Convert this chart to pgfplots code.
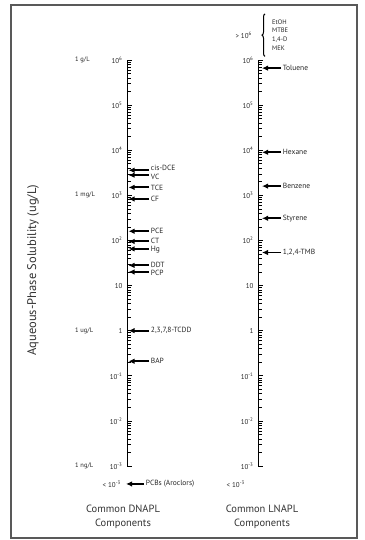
\documentclass[border=0pt]{standalone}
\usepackage{pgfplots}
\pgfplotsset{compat=1.18}
\usepackage{fontspec}
\setmainfont{PT Sans}
\usetikzlibrary{arrows.meta,decorations.pathreplacing}

\tikzset{
  arr/.style={-{Latex[length=6pt,width=5.5pt]}, line width=1.9pt, black},
  lab/.style={anchor=west, inner sep=1pt, font=\fontsize{7.5}{8}\selectfont, text=black!85},
}

\begin{document}
\begin{tikzpicture}
\useasboundingbox (0pt,0pt) rectangle (364pt,540pt);
\draw[line width=1.4pt, black!65] (11pt,2pt) rectangle (357pt,535pt);

% y label
\node[rotate=90, font=\fontsize{12.5}{14}\selectfont, text=black!80] at (33pt,270pt) {Aqueous-Phase Solubility (ug/L)};

% bottom labels
\node[align=center, font=\fontsize{10.5}{14}\selectfont, text=black!80] at (123pt,23pt) {Common DNAPL\\Components};
\node[align=center, font=\fontsize{10.5}{14}\selectfont, text=black!80] at (262pt,23pt) {Common LNAPL\\Components};

% ---------------- DNAPL axis ----------------
\begin{axis}[at={(127pt,74pt)},
    anchor=south west, scale only axis, width=100pt, height=406pt,
    xmin=0, xmax=100, ymin=1e-3, ymax=1e6, ymode=log,
    axis lines*=left,
    x axis line style={draw=none}, xtick=\empty,
    y axis line style={-, line width=1pt, black},
    ytick={1e-3,1e-2,1e-1,1,10,100,1e3,1e4,1e5,1e6},
    yticklabels={10\textsuperscript{-3},10\textsuperscript{-2},10\textsuperscript{-1},1,10,10\textsuperscript{2},10\textsuperscript{3},10\textsuperscript{4},10\textsuperscript{5},10\textsuperscript{6}},
    minor ytick={2e-3,3e-3,4e-3,5e-3,6e-3,7e-3,8e-3,9e-3,2e-2,3e-2,4e-2,5e-2,6e-2,7e-2,8e-2,9e-2,2e-1,3e-1,4e-1,5e-1,6e-1,7e-1,8e-1,9e-1,2,3,4,5,6,7,8,9,20,30,40,50,60,70,80,90,200,300,400,500,600,700,800,900,2e3,3e3,4e3,5e3,6e3,7e3,8e3,9e3,2e4,3e4,4e4,5e4,6e4,7e4,8e4,9e4,2e5,3e5,4e5,5e5,6e5,7e5,8e5,9e5},
    tick align=inside,
    major tick length=5pt, minor tick length=3.5pt,
    ytick style={draw=black, line width=0.6pt},
    yticklabel style={font=\fontsize{7}{7}\selectfont, text=black!85, xshift=-1pt},
    clip=false]
\node[lab, font=\fontsize{6.5}{7}\selectfont] at (axis cs:-53,1e6) {1 g/L};
\node[lab, font=\fontsize{6.5}{7}\selectfont] at (axis cs:-53,1e3) {1 mg/L};
\node[lab, font=\fontsize{6.5}{7}\selectfont] at (axis cs:-53,1) {1 ug/L};
\node[lab, font=\fontsize{6.5}{7}\selectfont] at (axis cs:-53,1e-3) {1 ng/L};
\node[anchor=east, inner sep=1pt, font=\fontsize{7}{7}\selectfont, text=black!85] at (axis cs:-5,4e-4) {< 10\textsuperscript{-3}};

\addplot[arr] coordinates {(22,3600) (1.5,3600)} node[lab, pos=0, yshift=2pt] {cis-DCE};
\addplot[arr] coordinates {(22,2800) (1.5,2800)} node[lab, pos=0, yshift=-1.5pt] {VC};
\addplot[arr] coordinates {(22,1500) (1.5,1500)} node[lab, pos=0] {TCE};
\addplot[arr] coordinates {(22,830) (1.5,830)} node[lab, pos=0] {CF};
\addplot[arr] coordinates {(22,160) (1.5,160)} node[lab, pos=0] {PCE};
\addplot[arr] coordinates {(22,95) (1.5,95)} node[lab, pos=0, yshift=1pt] {CT};
\addplot[arr] coordinates {(22,65) (1.5,65)} node[lab, pos=0, yshift=-1pt] {Hg};
\addplot[arr] coordinates {(22,28) (1.5,28)} node[lab, pos=0, yshift=1pt] {DDT};
\addplot[arr] coordinates {(22,20) (1.5,20)} node[lab, pos=0, yshift=-1pt] {PCP};
\addplot[arr] coordinates {(22,1) (1.5,1)} node[lab, pos=0] {2,3,7,8-TCDD};
\addplot[arr] coordinates {(22,0.21) (1.5,0.21)} node[lab, pos=0] {BAP};
\addplot[arr] coordinates {(17,4e-4) (-1,4e-4)} node[lab, pos=0] {PCBs (Aroclors)};
\end{axis}

% ---------------- LNAPL axis ----------------
\begin{axis}[at={(258pt,74pt)},
    anchor=south west, scale only axis, width=100pt, height=406pt,
    xmin=0, xmax=100, ymin=1e-3, ymax=1e6, ymode=log,
    axis lines*=left,
    x axis line style={draw=none}, xtick=\empty,
    y axis line style={-, line width=1pt, black},
    ytick={1e-3,1e-2,1e-1,1,10,100,1e3,1e4,1e5,1e6},
    yticklabels={10\textsuperscript{-3},10\textsuperscript{-2},10\textsuperscript{-1},1,10,10\textsuperscript{2},10\textsuperscript{3},10\textsuperscript{4},10\textsuperscript{5},10\textsuperscript{6}},
    minor ytick={2e-3,3e-3,4e-3,5e-3,6e-3,7e-3,8e-3,9e-3,2e-2,3e-2,4e-2,5e-2,6e-2,7e-2,8e-2,9e-2,2e-1,3e-1,4e-1,5e-1,6e-1,7e-1,8e-1,9e-1,2,3,4,5,6,7,8,9,20,30,40,50,60,70,80,90,200,300,400,500,600,700,800,900,2e3,3e3,4e3,5e3,6e3,7e3,8e3,9e3,2e4,3e4,4e4,5e4,6e4,7e4,8e4,9e4,2e5,3e5,4e5,5e5,6e5,7e5,8e5,9e5},
    tick align=inside,
    major tick length=5pt, minor tick length=3.5pt,
    ytick style={draw=black, line width=0.6pt},
    yticklabel style={font=\fontsize{7}{7}\selectfont, text=black!85, xshift=-1pt},
    clip=false]
\node[anchor=east, inner sep=1pt, font=\fontsize{7}{7}\selectfont, text=black!85] at (axis cs:-5,3.6e6) {> 10\textsuperscript{6}};
\draw[line width=1pt, decorate, decoration={brace, amplitude=3pt}] (axis cs:7,1.2e6) -- (axis cs:7,1.05e7);
\node[anchor=west, align=left, inner sep=1pt, font=\fontsize{6.5}{8.7}\selectfont, text=black!85] at (axis cs:13,3.6e6) {EtOH\\MTBE\\1,4-D\\MEK};
\node[anchor=east, inner sep=1pt, font=\fontsize{7}{7}\selectfont, text=black!85] at (axis cs:-12,4e-4) {< 10\textsuperscript{-3}};

\addplot[arr] coordinates {(23,6.6e5) (4,6.6e5)} node[lab, pos=0] {Toluene};
\addplot[arr] coordinates {(23,9000) (4,9000)} node[lab, pos=0] {Hexane};
\addplot[arr] coordinates {(23,1600) (4,1600)} node[lab, pos=0] {Benzene};
\addplot[arr] coordinates {(23,310) (4,310)} node[lab, pos=0] {Styrene};
\addplot[arr] coordinates {(23,54) (4,54)} node[lab, pos=0] {1,2,4-TMB};
\end{axis}
\end{tikzpicture}
\end{document}
